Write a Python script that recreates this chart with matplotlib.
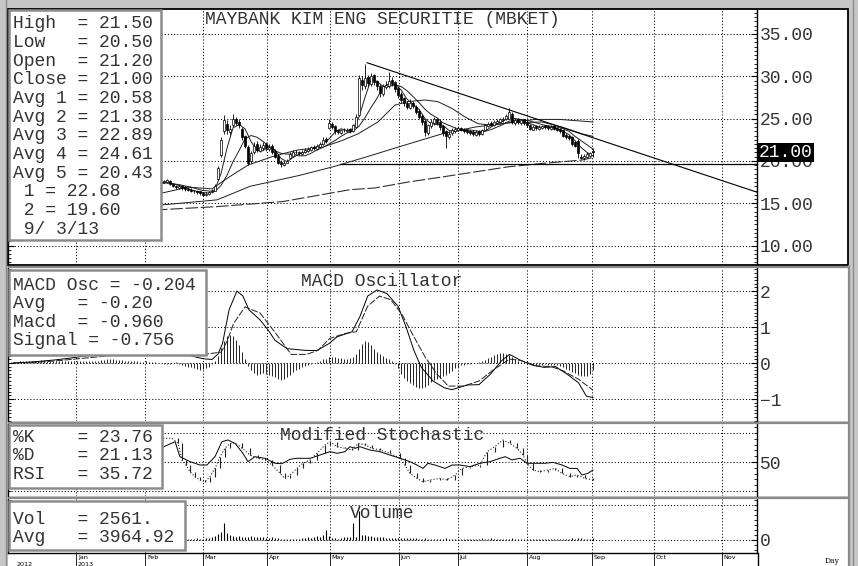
import numpy as np
import matplotlib
matplotlib.use("Agg")
import matplotlib.pyplot as plt
from matplotlib.patches import Rectangle
from matplotlib.ticker import MultipleLocator
from matplotlib.transforms import blended_transform_factory as blend

# ------------------------------------------------------------------ data
title = "MAYBANK KIM ENG SECURITIE (MBKET)"

# daily candles, trading-day index starts at price_start
price_start = 48
opens = [17.0,17.2,17.4,17.5,17.5,17.6,17.3,17.0,16.8,17.0,
         16.9,16.7,16.6,16.5,16.4,16.4,16.2,16.0,16.1,16.3,
         16.5,17.9,20.7,23.5,24.4,23.4,24.2,24.9,24.6,23.8,
         22.9,21.7,20.0,21.0,22.0,21.2,21.5,22.0,21.4,21.8,
         21.2,20.6,19.9,19.5,19.8,20.3,20.6,21.1,21.0,20.8,
         21.0,21.2,21.3,21.7,21.4,21.7,22.0,22.6,23.9,24.4,
         24.1,23.6,23.3,23.7,23.5,23.8,23.5,24.0,25.4,29.6,
         28.8,29.9,29.1,30.1,29.4,28.9,27.9,28.7,28.8,29.6,
         29.3,28.6,27.9,27.4,26.9,26.3,26.9,26.4,25.9,25.3,
         24.7,23.3,24.1,24.5,25.0,24.6,24.1,23.5,22.8,23.3,
         23.5,23.7,23.9,23.8,23.6,23.5,23.4,23.1,23.5,23.2,
         23.7,24.1,24.5,24.2,24.5,24.6,24.8,24.9,25.0,25.6,
         24.5,24.9,24.5,24.9,24.6,24.3,23.7,24.1,23.8,23.9,
         24.2,24.1,23.8,24.1,23.9,23.8,23.6,23.1,22.9,22.8,
         22.2,22.4,20.5,20.3,20.5,20.6,21.2]
closes = [17.2,17.4,17.5,17.6,17.7,17.3,17.0,16.9,17.0,16.8,
          16.7,16.6,16.5,16.4,16.3,16.2,16.0,16.1,16.3,16.5,
          17.0,19.2,22.5,24.8,23.6,23.8,25.0,24.5,24.2,22.8,
          21.8,19.8,20.9,21.8,21.3,21.6,21.9,21.5,21.7,21.0,
          20.5,19.8,19.6,19.8,20.0,20.8,21.0,21.0,20.9,21.1,
          21.3,21.4,21.6,21.5,21.8,22.0,22.5,22.3,24.5,24.0,
          23.5,23.4,23.6,23.6,23.7,23.5,24.2,25.2,29.8,29.0,
          29.8,29.2,30.0,29.3,28.8,28.0,28.8,29.0,29.5,29.2,
          28.5,27.8,27.2,26.8,26.4,26.8,26.5,25.8,25.2,24.6,
          23.4,24.2,24.6,24.9,24.5,24.0,23.3,22.9,23.2,23.6,
          23.8,23.9,23.7,23.5,23.4,23.3,23.2,23.4,23.2,23.6,
          24.2,24.4,24.3,24.6,24.7,24.9,25.0,25.3,25.8,24.6,
          24.8,24.6,24.8,24.5,24.2,23.8,24.0,23.9,24.0,24.1,
          24.0,23.9,24.0,23.8,23.7,23.5,23.0,22.8,22.7,22.0,
          21.8,20.9,20.4,20.6,20.8,20.9,21.0]
highs = [17.4,17.6,17.7,17.8,17.9,17.7,17.4,17.1,17.2,17.1,
         17.0,16.9,16.8,16.6,16.6,16.5,16.3,16.3,16.5,16.7,
         17.3,19.4,22.8,25.4,24.8,24.2,25.5,25.2,24.9,24.0,
         23.1,21.9,21.2,22.2,22.3,22.0,22.2,22.2,22.0,22.0,
         21.4,20.8,20.1,20.0,20.2,21.0,21.3,21.3,21.2,21.3,
         21.5,21.6,21.8,21.9,22.0,22.2,22.8,22.8,24.9,24.6,
         24.2,23.8,23.8,23.9,23.9,23.9,24.4,25.5,30.2,30.0,
         31.5,30.2,30.4,30.3,29.6,29.1,29.1,29.4,30.5,29.9,
         29.5,28.8,28.1,27.6,27.1,27.3,27.1,26.6,26.1,25.5,
         24.9,24.4,24.9,25.2,25.1,24.8,24.3,23.7,23.5,23.9,
         24.0,24.1,24.0,23.9,23.8,23.7,23.6,23.6,23.6,23.8,
         24.4,24.6,24.7,24.8,24.9,25.1,25.2,25.5,26.2,25.8,
         25.0,25.1,25.0,25.0,24.8,24.4,24.2,24.2,24.2,24.3,
         24.3,24.2,24.2,24.2,24.0,23.9,23.7,23.3,23.1,22.9,
         22.4,22.6,20.8,20.8,21.0,21.1,21.5]
lows = [16.9,17.1,17.3,17.4,17.4,17.2,16.9,16.7,16.7,16.6,
        16.5,16.4,16.3,16.2,16.1,16.0,15.8,15.9,16.0,16.2,
        16.4,17.8,20.5,23.2,23.2,23.1,24.0,24.2,23.9,22.5,
        21.5,19.5,19.8,20.8,21.0,21.0,21.3,21.2,21.2,20.8,
        20.3,19.6,19.3,19.4,19.7,20.2,20.5,20.8,20.7,20.7,
        20.9,21.1,21.2,21.3,21.3,21.6,21.9,22.1,23.8,23.8,
        23.2,23.2,23.2,23.4,23.4,23.3,23.4,23.9,25.3,28.4,
        28.5,28.9,28.9,29.0,28.4,27.6,27.7,28.5,28.6,28.9,
        28.2,27.4,26.9,26.5,26.1,26.1,26.2,25.5,24.9,24.3,
        23.0,23.1,23.9,24.3,24.2,23.7,23.0,21.5,22.6,23.1,
        23.3,23.5,23.5,23.3,23.2,23.1,22.9,23.0,22.9,23.1,
        23.6,24.0,24.1,24.1,24.4,24.5,24.6,24.8,24.9,24.4,
        24.3,24.4,24.3,24.3,24.0,23.6,23.6,23.7,23.7,23.8,
        23.8,23.7,23.7,23.6,23.5,23.3,22.8,22.6,22.5,21.8,
        21.6,20.3,20.2,20.1,20.4,20.5,20.5]

# moving averages (trading-day index, value)
avg1_t = [48,51,54,57,60,63,66,68,70,72,74,76,78,80,82,84,86,88,90,92,94,96,98,100,
          102,104,106,108,110,112,114,116,118,120,122,124,126,128,130,132,134,136,138,
          140,142,144,146,148,150,152,154,156,158,160,162,164,166,168,170,172,174,176,
          178,180,182,184,186,188,190,192,194]
avg1_v = [17.3,17.5,17.3,17.0,16.6,16.3,16.2,16.6,
          18.5,21.5,23.9,24.3,23.8,22.3,21.2,21.2,21.7,21.3,
          20.3,19.9,20.4,20.8,21.0,21.4,21.7,22.0,22.6,23.4,
          23.8,23.6,23.8,25.2,27.5,29.6,29.4,28.8,28.8,29.0,
          28.4,27.3,26.7,26.1,25.0,24.4,24.3,24.2,23.6,23.5,
          23.6,23.6,23.4,23.3,23.5,24.0,24.4,24.7,25.1,25.0,
          24.9,24.5,24.3,24.0,24.0,24.0,23.8,23.5,23.1,22.4,
          21.6,21.0,20.6]
avg2_t = [48,52,56,60,64,68,70,72,74,76,78,80,82,84,86,88,90,92,94,96,98,100,102,104,
          106,108,110,112,114,116,118,120,122,124,126,128,130,132,134,136,138,140,142,
          144,146,148,150,152,154,156,158,160,162,164,166,168,170,172,174,176,178,180,
          182,184,186,188,190,192,194]
avg2_v = [17.2,17.4,17.2,16.9,16.5,16.4,
          17.1,18.3,19.9,21.2,22.6,23.0,22.8,22.3,21.7,21.2,
          20.9,20.8,20.8,20.6,20.6,20.9,21.3,21.6,22.0,22.4,
          22.9,23.3,23.5,24.1,25.1,26.3,27.4,28.7,29.1,29.0,
          28.8,28.3,27.6,26.9,26.1,25.5,25.1,24.5,24.2,23.9,
          23.7,23.7,23.6,23.5,23.5,23.7,24.0,24.3,24.7,24.8,
          24.9,24.8,24.6,24.4,24.2,24.1,24.0,23.8,23.5,22.9,
          22.4,21.9,21.4]
avg3_t = [48,50.3,59,67,72.3,79,87,92.3,95.7,103.7,110.3,115.7,122.3,128,132.3,138,
          142.3,147,151.3,155.7,160.3,165.7,177,183.7,190.3,194]
avg3_v = [16.0,16.2,16.9,16.7,18.0,19.5,20.5,21.0,21.3,21.6,22.4,23.2,24.6,26.6,27.0,
          27.2,27.0,26.2,25.2,24.4,24.2,24.5,24.6,24.0,23.2,22.9]
avg4_t = [48,50.3,68.7,79.7,96.3,107.3,118.7,129.7,143.7,154.7,165.7,174.7,183,194]
avg4_v = [14.7,14.8,15.4,17.0,18.3,19.3,20.5,21.7,23.2,24.0,24.5,24.9,24.9,24.6]
avg5_t = [48,68.7,90.7,113,121.3,132.3,143.7,154.7,165.7,177,190.3,194]
avg5_v = [14.2,14.6,15.2,16.6,16.8,17.5,18.1,18.7,19.3,19.7,20.1,20.4]

# drawn lines: 1 = trendline, 2 = horizontal support
trend_t = [118.7, 248.7]
trend_v = [31.6, 16.3]
support_t = [109.7, 248.7]
support_v = [19.60, 19.60]

price_box = ["High  = 21.50", "Low   = 20.50", "Open  = 21.20", "Close = 21.00",
             "Avg 1 = 20.58", "Avg 2 = 21.38", "Avg 3 = 22.89", "Avg 4 = 24.61",
             "Avg 5 = 20.43", " 1 = 22.68", " 2 = 19.60", " 9/ 3/13"]

# MACD
macd_t = [0.7,5,10,15,20,25,35,45,55,60,64,67,69,70.5,72.7,75.3,77.3,79.3,83,85.7,
          88,92,98.3,102,106,108.7,113.7,116.3,118.9,122,125.3,129,131.7,134.3,136.8,
          140.7,144.5,147,152.1,156,159.8,163.6,166.2,170,173.9,177.7,181.5,185.4,
          189.2,191.8,194]
macd_v = [0.0,0.02,0.05,0.09,0.14,0.2,0.28,0.32,0.28,0.2,0.12,0.1,0.25,0.54,1.48,2.0,
          1.86,1.48,1.2,0.92,0.63,0.4,0.35,0.35,0.54,0.73,0.87,1.29,1.86,2.03,1.93,1.58,
          1.0,0.35,-0.12,-0.5,-0.69,-0.74,-0.61,-0.6,-0.31,0.07,0.24,0.07,-0.06,-0.12,
          -0.10,-0.31,-0.55,-0.92,-0.96]
signal_t = [0.7,5,10,15,20,25,35,45,55,60,65,70,72,74.2,78,83,88.3,93.4,98.5,102.3,
            106.2,111.3,115.1,118.9,122.8,126.6,130.4,134.3,138.1,142,145.8,150.9,156,
            161.1,166.2,170,175.2,180.2,184.1,189.2,194]
signal_v = [0.0,0.01,0.03,0.06,0.1,0.14,0.22,0.27,0.3,0.29,0.25,0.3,0.6,1.1,1.56,1.39,
            0.82,0.24,0.24,0.35,0.68,0.82,0.87,1.58,1.86,1.76,1.34,0.73,0.16,-0.31,
            -0.64,-0.64,-0.5,-0.17,0.11,0.07,-0.08,-0.10,-0.22,-0.45,-0.756]
osc_start = 0
osc_v = [0.02,0.03,0.04,0.05,0.05,0.06,0.06,0.07,0.07,0.07,
         0.08,0.08,0.07,0.07,0.06,0.06,0.06,0.05,0.05,0.05,
         0.05,0.06,0.06,0.06,0.07,0.07,0.07,0.06,0.06,0.07,
         0.08,0.09,0.10,0.10,0.10,0.09,0.09,0.08,0.07,0.06,
         0.06,0.05,0.05,0.04,0.04,0.05,0.04,0.03,0.02,0.01,
         0.00,-0.02,-0.03,-0.02,0.01,0.02,-0.03,-0.06,-0.08,-0.10,
         -0.12,-0.14,-0.16,-0.18,-0.17,-0.14,-0.10,-0.04,0.05,0.20,
         0.42,0.62,0.74,0.79,0.76,0.65,0.50,0.32,0.12,-0.08,
         -0.20,-0.28,-0.32,-0.30,-0.28,-0.30,-0.33,-0.37,-0.40,-0.43,
         -0.46,-0.45,-0.40,-0.33,-0.25,-0.20,-0.16,-0.12,-0.09,-0.06,
         -0.03,0.00,0.03,0.06,0.10,0.12,0.16,0.18,0.17,0.15,
         0.13,0.12,0.12,0.14,0.18,0.25,0.38,0.52,0.60,0.58,
         0.50,0.40,0.30,0.24,0.20,0.15,0.10,0.05,-0.02,-0.15,
         -0.30,-0.42,-0.50,-0.56,-0.62,-0.66,-0.69,-0.70,-0.66,-0.60,
         -0.52,-0.48,-0.45,-0.42,-0.37,-0.32,-0.27,-0.23,-0.15,-0.10,
         -0.06,-0.05,-0.04,-0.02,0.00,-0.01,0.02,0.05,0.09,0.14,
         0.18,0.22,0.26,0.28,0.28,0.26,0.22,0.16,0.10,0.06,
         0.04,0.02,0.00,-0.03,-0.05,-0.05,-0.06,-0.05,-0.04,-0.05,
         -0.05,-0.06,-0.05,-0.08,-0.12,-0.16,-0.20,-0.24,-0.28,-0.32,
         -0.35,-0.37,-0.37,-0.30,-0.20]
macd_box = ["MACD Osc = -0.204", "Avg   = -0.20", "Macd  = -0.960", "Signal = -0.756"]

# Modified stochastic
stoch_t = [50.7,54.7,56.3,59.7,63,65.3,68,70.3,72.3,74.7,77.3,79,81.3,84.7,88,90.3,93,
           95.3,99.7,103,106.3,108.7,111.3,113,114.7,116.3,119.7,123,126.3,129.7,133,
           135.3,137.3,139,141.3,144.7,147,149.7,153,156.3,159.7,163,164.7,167,169.7,
           172,174.7,178,180.7,183.7,186.3,188.7,190.3,192.3,194]
stoch_v = [62.9,67.5,54.6,50.3,47.4,47.4,54.6,67.5,69,66,57.5,50.3,54.6,53.2,48.9,48.5,
           52.3,53.2,53.2,56,58.9,57.5,58.9,63.2,61.8,63.2,60.3,58.9,56,53.2,50.3,47.4,
           44.5,48.9,47.4,44.5,47.4,47.4,46,48.9,50.3,53.2,54.6,51.8,53.2,48.9,48.9,48.9,
           49.7,47.4,44.5,44.5,38.8,40.2,43.1]
stochd_t = [50.7,53.7,55.7,57,58.3,59.7,61.3,63,64.7,66.3,68,69.7,71.3,73,75,77,79.7,
            82.3,84.7,87,89.7,91.3,93,95.3,97.3,99.7,102,104.7,106.3,108.7,111.3,113.7,
            115.7,118,120.3,123,126.3,129.7,131.3,133,135.3,137.3,139.7,143,145.3,148,
            150.3,153,156.3,158.7,161.3,164,166.3,168.7,170.7,172,174,176.3,179,181.3,
            183.7,186.3,188.7,191.3,194]
stochd_v = [70.4,70.4,66,51.7,47.4,41.6,37.3,34.5,33,37.3,44.5,54.6,61.8,66,66,61.8,56,
            53.2,51.8,47.4,40.2,35.9,38.8,44.5,48.9,51.8,57.5,64.7,67.5,63.2,61.8,60.3,
            66,64.7,61.8,60.3,57.5,53.2,47.4,40.2,35.9,33,34.5,35.9,34.5,38.8,44.5,46,
            47.4,58.9,63.2,69,66,61.8,56,48.9,43.1,41.6,43.1,44.5,40.2,37.3,38.8,35.9,34.5]
stoch_box = ["%K    = 23.76", "%D    = 21.13", "RSI   = 35.72"]

# Volume
vol_start = 58
volume = [1500,2000,1500,2000,2500,2000,2000,3000,3000,
          4000,6000,9000,12000,25000,10000,7000,
          6000,5000,6000,5000,4000,5000,6000,4000,5000,4000,
          4000,3000,3000,4000,3000,3000,
          1500,1500,1500,1500,1500,1500,
          2000,3000,3000,4000,3000,5000,6000,
          5000,8000,15000,6000,
          3000,3000,2000,3000,4000,4000,5000,
          25000,4000,44000,8000,
          7000,6000,6000,5000,5000,4000,4000,
          3000,3000,3000,3000,3000,3000,3000,2500,2500,2500,2500,
          2000,2000,2500,2000,2000,1500,1500,2000,2000,2500,
          2000,1500,1500,1500,2000,2000,1500,1500,2000,2000,
          2000,2500,2000,2000,2500,2000,2000,1500,1500,1500,
          2000,2500,2000,1500,1500,2000,1500,1500,1500,2000,
          2000,2000,1500,1500,1500,2000,2000,1500,2000,2000,
          2000,2500,2000,2500,3000,2000,2000,2000,2561]
vol_box = ["Vol   = 2561.", "Avg   = 3964.92"]

# time axis
month_pos = [21.7, 44.7, 64, 85.3, 106.3, 129.3, 149, 172, 193.7, 214.3, 237]
month_names = ["Jan", "Feb", "Mar", "Apr", "May", "Jun", "Jul", "Aug", "Sep", "Oct", "Nov"]
year_pos = [2.0, 22.3]
year_names = ["2012", "2013"]

price_ticks = [35, 30, 25, 20, 15, 10]
price_labels = ["35.00", "30.00", "25.00", "20.00", "15.00", "10.00"]
macd_ticks = [2, 1, 0, -1]
macd_labels = ["2", "1", "0", "\u22121"]
stoch_grid = [75, 50, 25]
stoch_ticks = [50]
stoch_labels = ["50"]
vol_grid = [0, 52500]
vol_ticks = [0]
vol_labels = ["0"]

# ------------------------------------------------------------------ figure
W, H = 858, 566
plt.rcParams['font.family'] = ['Liberation Mono', 'DejaVu Sans']
plt.rcParams['lines.scale_dashes'] = False
MONO = 'Liberation Mono'
TXT = '#333333'
FS = 13
fig = plt.figure(figsize=(W / 100, H / 100), dpi=100)
fig.patch.set_facecolor('#c6c6c6')


def px_axes(x0, y0, x1, y1, z=0):
    return fig.add_axes([x0 / W, 1 - y1 / H, (x1 - x0) / W, (y1 - y0) / H], zorder=z)


# background (white panels on grey frame)
bg = px_axes(0, 0, W, H, z=-5)
bg.set_xlim(0, W); bg.set_ylim(H, 0); bg.axis('off')
for (y0, y1) in [(9, 265), (268, 421), (424, 496), (499, 566)]:
    bg.add_patch(Rectangle((8, y0), 840, y1 - y0, fc='white', ec='none'))

XL = (-1, 248.67)
ax1 = px_axes(8, 9, 757, 265)
ax2 = px_axes(8, 268, 757, 421)
ax3 = px_axes(8, 424, 757, 496)
ax4 = px_axes(8, 499, 757, 553)

GRID = dict(colors='black', linewidths=0.75, linestyles=[(0, (0.75, 1.5))], zorder=1.2)


def style(ax, ylim, ticks, labels, grid, minor, left_ticks=True):
    ax.set_xlim(*XL)
    ax.set_ylim(*ylim)
    ax.set_facecolor('white')
    for s in ['top', 'bottom']:
        ax.spines[s].set_visible(False)
    for s in ['left', 'right']:
        ax.spines[s].set_color('black')
        ax.spines[s].set_linewidth(1.0)
    ax.set_xticks([])
    ax.yaxis.tick_right()
    ax.set_yticks(ticks)
    ax.set_yticklabels(labels)
    ax.yaxis.set_minor_locator(MultipleLocator(minor))
    ax.tick_params(axis='y', which='major', direction='in', length=4, width=0.8,
                   right=True, left=left_ticks, labelright=True, labelleft=False,
                   labelsize=FS, pad=2.2, colors='black', labelcolor=TXT)
    ax.tick_params(axis='y', which='minor', direction='in', length=2, width=0.6,
                   right=True, left=left_ticks)
    ax.hlines(grid, XL[0], XL[1], **GRID)
    ax.vlines(month_pos, ylim[0], ylim[1], **GRID)
    ax.set_xlim(*XL)
    ax.set_ylim(*ylim)


style(ax1, (7.7, 37.95), price_ticks, price_labels, price_ticks, 0.5)
style(ax2, (-1.61, 2.64), macd_ticks, macd_labels, macd_ticks, 0.1)
style(ax3, (20.69, 82.76), stoch_ticks, stoch_labels, stoch_grid, 5)
style(ax4, (-19500, 61500), vol_ticks, vol_labels, vol_grid, 7500)
ax4.spines['bottom'].set_visible(True)
ax4.spines['bottom'].set_color('black')
ax4.spines['bottom'].set_linewidth(1.0)

# ---------------- price panel
ct = np.arange(price_start, price_start + len(closes))
o = np.array(opens); c = np.array(closes); hi = np.array(highs); lo = np.array(lows)
up = c >= o
ax1.vlines(ct, lo, hi, color='black', lw=0.6, zorder=3)
ax1.bar(ct[up], (c - o)[up], bottom=o[up], width=0.8, facecolor='white',
        edgecolor='black', lw=0.5, zorder=4)
ax1.bar(ct[~up], (o - c)[~up], bottom=c[~up], width=0.8, facecolor='black',
        edgecolor='black', lw=0.5, zorder=4)
ma_kw = dict(color='#202020', lw=0.7, zorder=2)
ax1.plot(avg1_t, avg1_v, **ma_kw)
ax1.plot(avg2_t, avg2_v, **ma_kw)
ax1.plot(avg3_t, avg3_v, **ma_kw)
ax1.plot(avg4_t, avg4_v, **ma_kw)
ax1.plot(avg5_t, avg5_v, color='#303030', lw=0.8, ls=(0, (9, 2)), zorder=2)
ax1.plot(trend_t, trend_v, color='black', lw=0.8, zorder=2)
ax1.plot(support_t, support_v, color='black', lw=0.9, zorder=2)
ax1.text(1.0027, c[-1], f"{c[-1]:.2f}", transform=blend(ax1.transAxes, ax1.transData),
         color='white', fontsize=FS, family=MONO, ha='left', va='center', zorder=30,
         clip_on=False, bbox=dict(boxstyle='square,pad=0.06', fc='black', ec='none'))

# ---------------- MACD panel
ot = np.arange(osc_start, osc_start + len(osc_v))
ax2.vlines(ot, 0, osc_v, color='black', lw=0.6, zorder=2)
ax2.plot(macd_t, macd_v, color='black', lw=0.7, zorder=3)
ax2.plot(signal_t, signal_v, color='#202020', lw=0.7, ls=(0, (5, 1.2)), zorder=3)

# ---------------- Stochastic panel
ax3.plot(stoch_t, stoch_v, color='black', lw=0.7, zorder=3)
ax3.plot(stochd_t, stochd_v, color='#202020', lw=0.8, ls=(0, (0.8, 1.4)), zorder=3)
ax3.vlines(stochd_t[1:], stochd_v[:-1], stochd_v[1:], color='#202020', lw=0.8, zorder=3)

# ---------------- Volume panel
vt = np.arange(vol_start, vol_start + len(volume))
ax4.vlines(vt, 0, volume, color='black', lw=0.8, zorder=3)
bt = blend(ax4.transData, ax4.transAxes)
ax4.vlines(month_pos, -0.25, 0, color='black', lw=0.6, transform=bt, clip_on=False)
for m, n in zip(month_pos, month_names):
    ax4.text(m + 0.6, -0.03, n, transform=bt, fontsize=4.6, family='DejaVu Sans',
             ha='left', va='top', clip_on=False, color='black')
for m, n in zip(year_pos, year_names):
    ax4.text(m, -0.16, n, transform=bt, fontsize=4.6, family='DejaVu Sans',
             ha='left', va='top', clip_on=False, color='black')
ax4.set_xlim(*XL)
ax4.set_ylim(-19500, 61500)

# ---------------- overlay: frames, boxes, titles
ov = px_axes(0, 0, W, H, z=5)
ov.set_xlim(0, W); ov.set_ylim(H, 0); ov.axis('off')
ov.add_patch(Rectangle((8, 9), 840, 256, fill=False, ec='black', lw=1.3))
for y in [266.8, 422.6, 497.6]:
    ov.plot([8, 849], [y, y], color='#8a8a8a', lw=1.6, solid_capstyle='butt')
ov.plot([849, 849], [266, 566], color='#8a8a8a', lw=1.6)
ov.plot([5.5, 5.5], [0, 566], color='#8a8a8a', lw=1.0)
ov.plot([852.5, 852.5], [0, 566], color='#8a8a8a', lw=1.0)
ov.plot([757.5, 757.5], [553, 566], color='black', lw=1.0)
ov.text(832, 561, "Day", family='DejaVu Serif', fontsize=5.5, ha='center', va='center')

box_kw = dict(fc='white', ec='#8c8c8c', lw=1.8, zorder=10)
ov.add_patch(Rectangle((8.5, 9.8), 152.5, 230, **box_kw))
ov.add_patch(Rectangle((8.5, 269.5), 197, 85.5, **box_kw))
ov.add_patch(Rectangle((8.5, 425), 153.5, 63, **box_kw))
ov.add_patch(Rectangle((8.5, 500.5), 176.5, 49.5, **box_kw))

tkw = dict(family=MONO, fontsize=FS, color=TXT, ha='left', va='center', zorder=11)
for i, s in enumerate(price_box):
    ov.text(13, 24 + i * 18.65, s, **tkw)
for i, s in enumerate(macd_box):
    ov.text(13, 285.5 + i * 18.4, s, **tkw)
for i, s in enumerate(stoch_box):
    ov.text(13, 437.5 + i * 18.4, s, **tkw)
for i, s in enumerate(vol_box):
    ov.text(13, 519 + i * 18.0, s, **tkw)

ckw = dict(family=MONO, fontsize=FS, color=TXT, ha='center', va='center', zorder=11)
ov.text(382, 19, title, **ckw)
ov.text(382, 282, "MACD Oscillator", **ckw)
ov.text(382, 435, "Modified Stochastic", **ckw)
ov.text(382, 513, "Volume", **ckw)

fig.savefig("out.png", dpi=100, facecolor=fig.get_facecolor())
